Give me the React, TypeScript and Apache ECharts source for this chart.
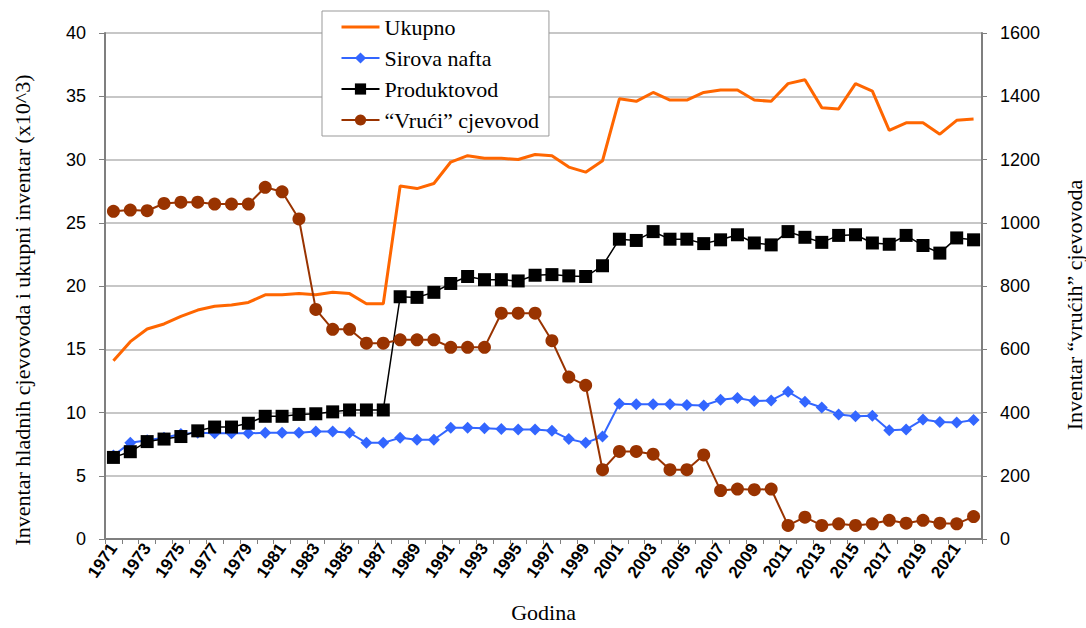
import React, { useEffect, useRef } from "react";
import * as echarts from "echarts";

const years = [
  "1971", "1972", "1973", "1974", "1975", "1976", "1977", "1978", "1979", "1980",
  "1981", "1982", "1983", "1984", "1985", "1986", "1987", "1988", "1989", "1990",
  "1991", "1992", "1993", "1994", "1995", "1996", "1997", "1998", "1999", "2000",
  "2001", "2002", "2003", "2004", "2005", "2006", "2007", "2008", "2009", "2010",
  "2011", "2012", "2013", "2014", "2015", "2016", "2017", "2018", "2019", "2020",
  "2021", "2022",
];

const ukupno = [
  14.1, 15.6, 16.6, 17.0, 17.6, 18.1, 18.4, 18.5, 18.7, 19.3,
  19.3, 19.4, 19.3, 19.5, 19.4, 18.6, 18.6, 27.9, 27.7, 28.1,
  29.8, 30.3, 30.1, 30.1, 30.0, 30.4, 30.3, 29.4, 29.0, 29.9,
  34.8, 34.6, 35.3, 34.7, 34.7, 35.3, 35.5, 35.5, 34.7, 34.6,
  36.0, 36.3, 34.1, 34.0, 36.0, 35.4, 32.3, 32.9, 32.9, 32.0,
  33.1, 33.2,
];

const sirovaNafta = [
  6.6, 7.6, 7.8, 8.0, 8.3, 8.4, 8.35, 8.35, 8.35, 8.4,
  8.4, 8.4, 8.5, 8.5, 8.4, 7.6, 7.6, 8.0, 7.85, 7.85,
  8.8, 8.8, 8.75, 8.7, 8.65, 8.65, 8.55, 7.9, 7.6, 8.1,
  10.7, 10.65, 10.65, 10.65, 10.6, 10.55, 11.0, 11.15, 10.9, 10.95,
  11.65, 10.85, 10.4, 9.85, 9.7, 9.75, 8.6, 8.65, 9.45, 9.25,
  9.2, 9.4,
];

const produktovod = [
  6.45, 6.9, 7.7, 7.9, 8.1, 8.55, 8.85, 8.85, 9.15, 9.7,
  9.7, 9.85, 9.9, 10.05, 10.2, 10.2, 10.2, 19.15, 19.1, 19.5,
  20.2, 20.75, 20.5, 20.5, 20.4, 20.85, 20.9, 20.8, 20.75, 21.6,
  23.7, 23.6, 24.3, 23.7, 23.7, 23.35, 23.65, 24.05, 23.4, 23.25,
  24.3, 23.85, 23.45, 24.0, 24.05, 23.4, 23.3, 24.0, 23.2, 22.6,
  23.8, 23.65,
];

const vruciCjevovod = [
  1036, 1040, 1038, 1061, 1065, 1065, 1059, 1059, 1059, 1112,
  1098, 1012, 726, 663, 663, 619, 619, 630, 630, 630,
  606, 606, 606, 714, 714, 714, 627, 512, 486, 219,
  277, 277, 268, 219, 219, 266, 153, 158, 156, 158,
  43, 69, 43, 48, 43, 48, 59, 50, 59, 50,
  48, 71,
];

const seriesNames = ["Ukupno", "Sirova nafta", "Produktovod", "\u201cVru\u0107i\u201d cjevovod"];
const leftAxisTitle = "Inventar hladnih cjevovoda i ukupni inventar (x10^3)";
const rightAxisTitle = "Inventar \u201cvru\u0107ih\u201d cjevovoda";
const xAxisTitle = "Godina";

export default function App() {
  const ref = useRef<HTMLDivElement>(null);

  useEffect(() => {
    const chart = echarts.init(ref.current as HTMLDivElement, null, { renderer: "svg" });
    const axisColor = "#7f7f7f";
    chart.setOption({
      animation: false,
      backgroundColor: "#ffffff",
      grid: { left: 105, right: 104, top: 33, bottom: 86, containLabel: false },
      legend: {
        orient: "vertical",
        left: 322,
        top: 11,
        itemWidth: 38,
        itemHeight: 14,
        itemGap: 9,
        padding: [5, 10, 5, 18],
        borderColor: "#999999",
        borderWidth: 1,
        backgroundColor: "#ffffff",
        textStyle: { fontFamily: "Liberation Serif", fontSize: 22, color: "#000", lineHeight: 22 },
        data: [
          {
            name: seriesNames[0],
            itemStyle: { color: "rgba(0,0,0,0)", borderWidth: 0, opacity: 0 },
            lineStyle: { width: 3 },
          },
          seriesNames[1],
          seriesNames[2],
          seriesNames[3],
        ],
      },
      xAxis: {
        type: "category",
        data: years,
        boundaryGap: true,
        axisLine: { lineStyle: { color: axisColor, width: 2 } },
        axisTick: { show: true, interval: 0, length: 5, lineStyle: { color: axisColor } },
        axisLabel: {
          interval: 1,
          rotate: 55,
          margin: 6,
          fontFamily: "Liberation Sans",
          fontWeight: "bold",
          fontSize: 17,
          color: "#000",
        },
        name: xAxisTitle,
        nameLocation: "middle",
        nameGap: 62,
        nameTextStyle: { fontFamily: "Liberation Serif", fontSize: 22, color: "#000" },
        splitLine: { show: false },
      },
      yAxis: [
        {
          type: "value",
          min: 0,
          max: 40,
          interval: 5,
          position: "left",
          axisLine: { show: true, lineStyle: { color: axisColor, width: 2 } },
          axisTick: { show: true, length: 6, lineStyle: { color: axisColor } },
          axisLabel: { fontFamily: "Liberation Sans", fontSize: 18, color: "#000", margin: 19 },
          splitLine: { show: true, lineStyle: { color: "#b4b4b4", width: 1.5 } },
        },
        {
          type: "value",
          min: 0,
          max: 1600,
          interval: 200,
          position: "right",
          axisLine: { show: true, lineStyle: { color: axisColor, width: 2 } },
          axisTick: { show: true, length: 5, lineStyle: { color: axisColor } },
          axisLabel: {
            fontFamily: "Liberation Sans",
            fontSize: 18,
            color: "#000",
            margin: 18,
            formatter: (v: number) => String(v),
          },
          splitLine: { show: false },
        },
      ],
      graphic: [
        {
          type: "text",
          x: 22,
          y: 310,
          rotation: Math.PI / 2,
          style: {
            text: leftAxisTitle,
            font: '22px "Liberation Serif"',
            fill: "#000",
            align: "center",
            verticalAlign: "middle",
          },
        },
        {
          type: "text",
          x: 1074,
          y: 305,
          rotation: Math.PI / 2,
          style: {
            text: rightAxisTitle,
            font: '22px "Liberation Serif"',
            fill: "#000",
            align: "center",
            verticalAlign: "middle",
          },
        },
      ],
      series: [
        {
          name: seriesNames[0],
          type: "line",
          yAxisIndex: 0,
          data: ukupno,
          symbol: "none",
          color: "#FF6600",
          lineStyle: { color: "#FF6600", width: 3 },
        },
        {
          name: seriesNames[1],
          type: "line",
          yAxisIndex: 0,
          data: sirovaNafta,
          symbol: "diamond",
          symbolSize: 12,
          showAllSymbol: true,
          color: "#3366FF",
          lineStyle: { color: "#3366FF", width: 2 },
        },
        {
          name: seriesNames[2],
          type: "line",
          yAxisIndex: 0,
          data: produktovod,
          symbol: "rect",
          symbolSize: 13,
          showAllSymbol: true,
          color: "#000000",
          lineStyle: { color: "#000000", width: 1.5 },
        },
        {
          name: seriesNames[3],
          type: "line",
          yAxisIndex: 1,
          data: vruciCjevovod,
          symbol: "circle",
          symbolSize: 13,
          showAllSymbol: true,
          color: "#993300",
          lineStyle: { color: "#993300", width: 2 },
        },
      ],
    });
    return () => chart.dispose();
  }, []);

  return (
    <div
      ref={ref}
      style={{ position: "fixed", left: 0, top: 0, width: 1086, height: 628, background: "#fff" }}
    />
  );
}
